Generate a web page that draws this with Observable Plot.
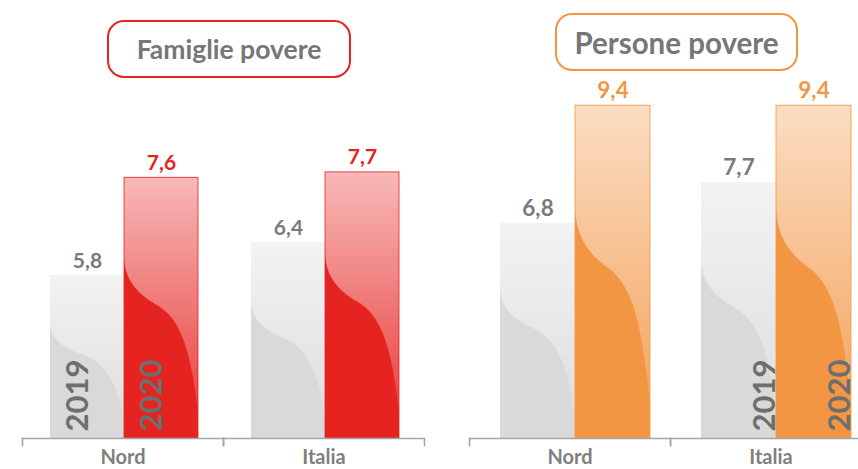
<!DOCTYPE html>
<html>
<head>
<meta charset="utf-8">
<script src="https://cdn.jsdelivr.net/npm/d3@7"></script>
<script src="https://cdn.jsdelivr.net/npm/@observablehq/plot@0.6"></script>
<style>
html, body { margin: 0; padding: 0; background: #fff; overflow: hidden; }
#root { position: relative; width: 858px; height: 469px; overflow: hidden; font-family: Lato, "Open Sans", sans-serif; }
.panel { position: absolute; top: 0; }
.panel svg { overflow: visible; display: block; max-width: none !important; }
.title { position: absolute; box-sizing: border-box; border: 2.5px solid; border-radius: 17px;
  display: flex; align-items: center; justify-content: center; font-weight: 700; color: #767676;
  background: #fff; font-family: Lato, sans-serif; white-space: nowrap; }
</style>
</head>
<body>
<div id="root">
  <svg width="0" height="0" style="position:absolute">
    <defs>
      <linearGradient id="gloss" x1="0" y1="0" x2="0" y2="1">
        <stop offset="0" stop-color="#fff" stop-opacity="0.68"/>
        <stop offset="1" stop-color="#fff" stop-opacity="0.14"/>
      </linearGradient>
      <pattern id="pat-gray" width="1" height="1" patternContentUnits="objectBoundingBox">
        <rect width="1" height="1" fill="#d9d9d9"/>
        <path d="M0,0 H1 V0.9 C0.9,0.65 0.75,0.54 0.45,0.49 C0.2,0.45 0.02,0.4 0,0.31 Z" fill="url(#gloss)"/>
      </pattern>
      <pattern id="pat-red" width="1" height="1" patternContentUnits="objectBoundingBox">
        <rect width="1" height="1" fill="#e52421"/>
        <path d="M0,0 H1 V0.9 C0.9,0.65 0.75,0.54 0.45,0.49 C0.2,0.45 0.02,0.4 0,0.31 Z" fill="url(#gloss)"/>
      </pattern>
      <pattern id="pat-orange" width="1" height="1" patternContentUnits="objectBoundingBox">
        <rect width="1" height="1" fill="#f39644"/>
        <path d="M0,0 H1 V0.9 C0.9,0.65 0.75,0.54 0.45,0.49 C0.2,0.45 0.02,0.4 0,0.31 Z" fill="url(#gloss)"/>
      </pattern>
    </defs>
  </svg>
  <div id="left" class="panel" style="left:0px;width:430px"></div>
  <div id="right" class="panel" style="left:430px;width:441px"></div>
  <div id="t0" class="title" style="left:107px;top:20px;width:244px;height:58px;border-color:#e52421;font-size:26.5px"></div>
  <div id="t1" class="title" style="left:555px;top:13px;width:243px;height:58px;border-color:#f39644;font-size:29.5px"></div>
</div>
<script>
// ---- data ----
const groups = ["Nord", "Italia"];
const years = ["2019", "2020"];
const panelTitles = ["Famiglie povere", "Persone povere"];
const famiglie2019 = [5.8, 6.4];
const famiglie2020 = [7.6, 7.7];
const persone2019 = [6.8, 7.7];
const persone2020 = [9.4, 9.4];
// group whose bars carry the vertical year labels, per panel
const yearLabelGroups = ["Nord", "Italia"];

const fmt = v => v.toLocaleString("it-IT", {minimumFractionDigits: 1, maximumFractionDigits: 1});

function panel(opts) {
  const {values2019, values2020, yDomain, color2020, pattern2020, width, marginTop, marginLeft,
         align, paddingOuter, labelSize, yearGroup, yearDx} = opts;
  const rows = groups.flatMap((g, i) => [
    {group: g, year: years[0], value: values2019[i]},
    {group: g, year: years[1], value: values2020[i]}
  ]);
  const yMin = yDomain[0];
  const height = 469, marginBottom = 31;
  const innerH = height - marginTop - marginBottom;
  const axisColor = "#a6a6a6";
  const gray = "#7a7a7a";
  return Plot.plot({
    width, height, marginTop, marginBottom, marginLeft, marginRight: 0,
    style: {fontFamily: "Lato, sans-serif", background: "transparent", overflow: "visible"},
    fx: {domain: groups, padding: 0, axis: null},
    x: {domain: years, paddingInner: 0, paddingOuter, align, axis: null},
    y: {domain: yDomain, axis: null},
    marks: [
      Plot.barY(rows.filter(d => d.year === years[0]), {fx: "group", x: "year", y1: yMin, y2: "value", fill: "url(#pat-gray)"}),
      Plot.barY(rows.filter(d => d.year === years[1]), {fx: "group", x: "year", y1: yMin, y2: "value", fill: `url(#${pattern2020})`, stroke: color2020, strokeWidth: 1, strokeOpacity: 0.8}),
      Plot.ruleY([yMin], {stroke: axisColor, strokeWidth: 1.6}),
      Plot.frame({anchor: "left", insetTop: innerH, insetBottom: -7, stroke: axisColor, strokeWidth: 1.6}),
      Plot.frame({anchor: "right", insetTop: innerH, insetBottom: -7, stroke: axisColor, strokeWidth: 1.6}),
      Plot.text(rows.filter(d => d.year === years[0]), {fx: "group", x: "year", y: "value", text: d => fmt(d.value),
        dy: -8, lineAnchor: "bottom", fontSize: labelSize, fontWeight: 700, fill: gray}),
      Plot.text(rows.filter(d => d.year === years[1]), {fx: "group", x: "year", y: "value", text: d => fmt(d.value),
        dy: -8, lineAnchor: "bottom", fontSize: labelSize, fontWeight: 700, fill: color2020}),
      Plot.text(rows.filter(d => d.group === yearGroup), {fx: "group", x: "year", frameAnchor: "bottom", text: "year",
        rotate: -90, textAnchor: "start", lineAnchor: "bottom", dx: yearDx, dy: -7,
        fontSize: 31, fontWeight: 700, fill: "#6e6e6e"}),
      Plot.text(groups, {fx: d => d, text: d => d, frameAnchor: "bottom", lineAnchor: "bottom", dy: 25,
        fontSize: 20, fontWeight: 700, fill: "#7f7f7f"})
    ]
  });
}

document.getElementById("t0").textContent = panelTitles[0];
document.getElementById("t1").textContent = panelTitles[1];

document.getElementById("left").append(panel({
  values2019: famiglie2019, values2020: famiglie2020,
  yDomain: [2.8, 10], color2020: "#e52421", pattern2020: "pat-red",
  width: 424, marginTop: 47, marginLeft: 22, align: 0.52, paddingOuter: 0.35,
  labelSize: 21, yearGroup: yearLabelGroups[0], yearDx: 0
}));
document.getElementById("right").append(panel({
  values2019: persone2019, values2020: persone2020,
  yDomain: [2.07, 10], color2020: "#f39644", pattern2020: "pat-orange",
  width: 441, marginTop: 78, marginLeft: 39, align: 0.6, paddingOuter: 0.33,
  labelSize: 22.5, yearGroup: yearLabelGroups[1], yearDx: 36
}));
</script>
</body>
</html>
